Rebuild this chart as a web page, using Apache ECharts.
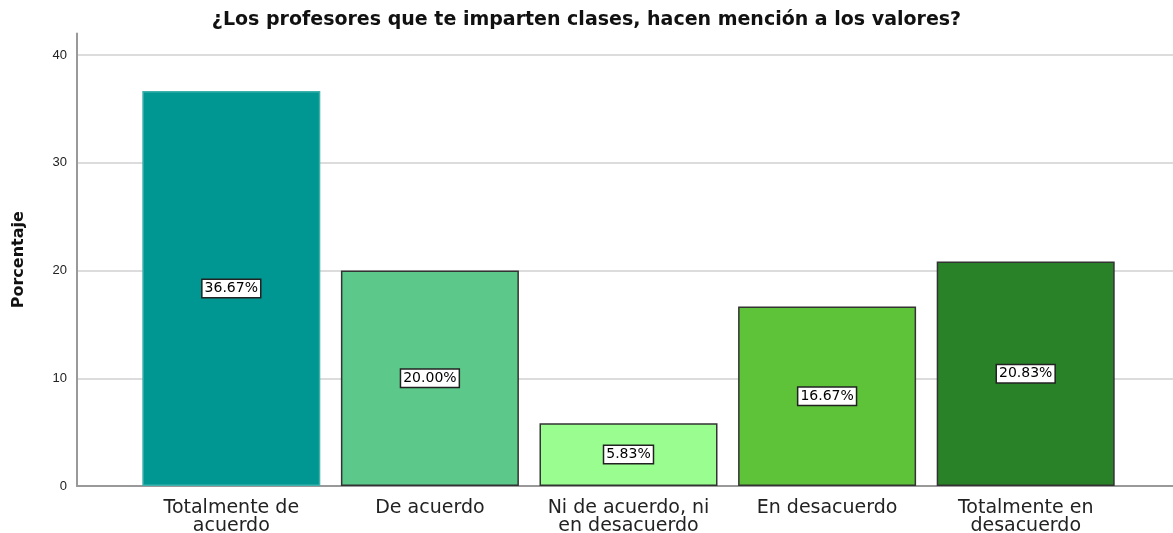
<!DOCTYPE html>
<html>
<head>
<meta charset="utf-8">
<script src="https://cdn.jsdelivr.net/npm/echarts@6/dist/echarts.min.js"></script>
<style>
  html, body { margin: 0; padding: 0; background: #fff; }
  #chart { width: 1173px; height: 533px; }
</style>
</head>
<body>
<div id="chart"></div>
<script>
// 数据
const categories = ['Totalmente de\nacuerdo', 'De acuerdo', 'Ni de acuerdo, ni\nen desacuerdo', 'En desacuerdo', 'Totalmente en\ndesacuerdo'];
const percentages = [36.67, 20.00, 5.83, 16.67, 20.83];
const yTicks = [0, 10, 20, 30, 40];

const barColors = ['#009691', '#5cc98a', '#99fd90', '#5ec338', '#2a8228'];
const barBorders = ['#3fb0ab', '#333333', '#333333', '#333333', '#333333'];

const FONT = 'DejaVu Sans';
const Y_MAX = 42;

const chart = echarts.init(document.getElementById('chart'));

const options = {
  animation: false,
  // 标题
  title: {
    text: '¿Los profesores que te imparten clases, hacen mención a los valores?',
    left: 'center',
    top: 6,
    textStyle: { fontFamily: FONT, fontSize: 19, fontWeight: 'bold', color: '#111' }
  },
  // grid 0: axis frame, grid 1: bars (SPSS pads the categories inside the frame)
  grid: [
    { left: 77, right: 0, top: 33.5, bottom: 47, containLabel: false, outerBoundsMode: 'none' },
    { left: 132, right: 48, top: 33.5, bottom: 47, containLabel: false, outerBoundsMode: 'none' }
  ],
  xAxis: [
    {
      type: 'value', gridIndex: 0, min: 0, max: 1,
      axisLine: { show: true, lineStyle: { color: '#999', width: 2 } },
      axisTick: { show: false }, axisLabel: { show: false }, splitLine: { show: false }
    },
    {
      type: 'category', gridIndex: 1, data: categories,
      axisLine: { show: false }, axisTick: { show: false },
      axisLabel: {
        fontFamily: FONT, fontSize: 19, color: '#222', lineHeight: 18, margin: 13, interval: 0
      }
    }
  ],
  yAxis: [
    {
      type: 'value', gridIndex: 0, min: 0, max: Y_MAX, interval: 10,
      name: 'Porcentaje', nameLocation: 'middle', nameGap: 50,
      nameTextStyle: { fontFamily: FONT, fontSize: 16, fontWeight: 'bold', color: '#111' },
      axisLine: { show: true, lineStyle: { color: '#999', width: 2 } },
      axisTick: { show: false },
      axisLabel: {
        fontFamily: 'Liberation Sans', fontSize: 13, color: '#222', margin: 10, showMaxLabel: false,
        formatter: v => (yTicks.indexOf(v) >= 0 ? String(v) : '')
      },
      splitLine: { show: true, showMaxLine: false, lineStyle: { color: '#d0d0d0', width: 1.5 } }
    },
    {
      type: 'value', gridIndex: 1, min: 0, max: Y_MAX, interval: 10, show: false,
      splitLine: { show: false }
    }
  ],
  series: [
    {
      type: 'bar',
      xAxisIndex: 1,
      yAxisIndex: 1,
      barWidth: 178,
      data: percentages.map((v, i) => ({
        value: v,
        itemStyle: { color: barColors[i], borderColor: barBorders[i], borderWidth: 1.5 }
      })),
      label: {
        show: true,
        position: 'inside',
        formatter: p => p.value.toFixed(2) + '%',
        fontFamily: FONT,
        fontSize: 14,
        color: '#000',
        backgroundColor: '#fff',
        borderColor: '#222',
        borderWidth: 1.5,
        padding: [2, 2, 1, 2]
      }
    }
  ]
};

chart.setOption(options);
</script>
</body>
</html>
